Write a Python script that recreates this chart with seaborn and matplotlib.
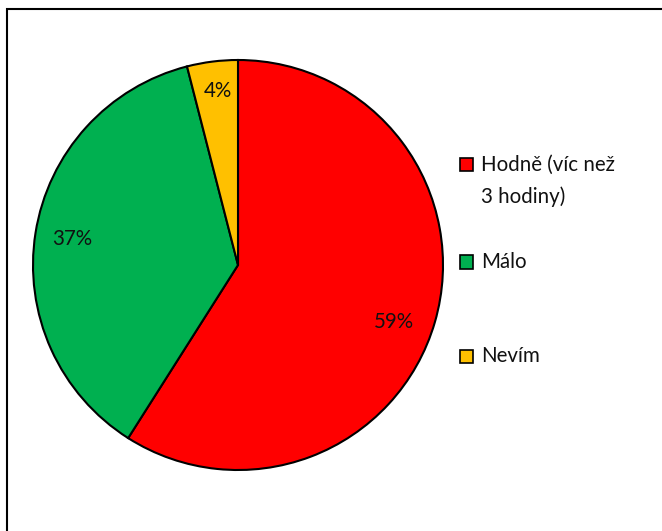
import matplotlib
matplotlib.use("Agg")
import matplotlib.pyplot as plt
import seaborn as sns
from matplotlib.patches import Rectangle

categories = ["Hodně (víc než\n3 hodiny)", "Málo", "Nevím"]
values = [59, 37, 4]
colors = ["#FF0000", "#00B050", "#FFC000"]

sns.set_theme(style="white")
plt.rcParams['font.family'] = ['Lato', 'DejaVu Sans']

W, H = 662, 531
FS = 14.8
fig = plt.figure(figsize=(W / 100, H / 100), dpi=100)

# outer frame (chart area border)
fig.patches.append(Rectangle((7 / W, -0.1), 1.2, 1 - 9 / H + 0.1, transform=fig.transFigure,
                             fill=False, edgecolor="black", linewidth=1.5))

cx, cy, r = 238, 265, 205
ax = fig.add_axes([(cx - r) / W, (H - cy - r) / H, 2 * r / W, 2 * r / H])
wedges, texts, autotexts = ax.pie(values, colors=colors, startangle=90, counterclock=False,
                                  autopct=lambda p: f"{p:.0f}%", pctdistance=0.82,
                                  wedgeprops=dict(edgecolor="black", linewidth=1.5),
                                  textprops=dict(fontsize=FS, color="#111111"))
ax.set_xlim(-1, 1)
ax.set_ylim(-1, 1)
ax.set_aspect("auto")
# small best-fit style nudges of the percentage labels
autotexts[0].set_position((0.76, -0.28))
autotexts[2].set_position((-0.10, 0.85))

# legend (drawn as patches + text so the marker aligns with the first line)
leg_x = 460 / W
leg_ys = [165, 262, 356]  # vertical centres of first lines (pixels from top)
box = 13
for lab, col, yp in zip(categories, colors, leg_ys):
    fig.patches.append(Rectangle((leg_x, 1 - (yp + box / 2) / H), box / W, box / H,
                                 transform=fig.transFigure, facecolor=col,
                                 edgecolor="black", linewidth=1.2))
    fig.text(481 / W, 1 - (yp - 10) / H, lab, fontsize=FS, color="#111111",
             va="top", ha="left", linespacing=1.68)

fig.savefig("out.png", dpi=100)
